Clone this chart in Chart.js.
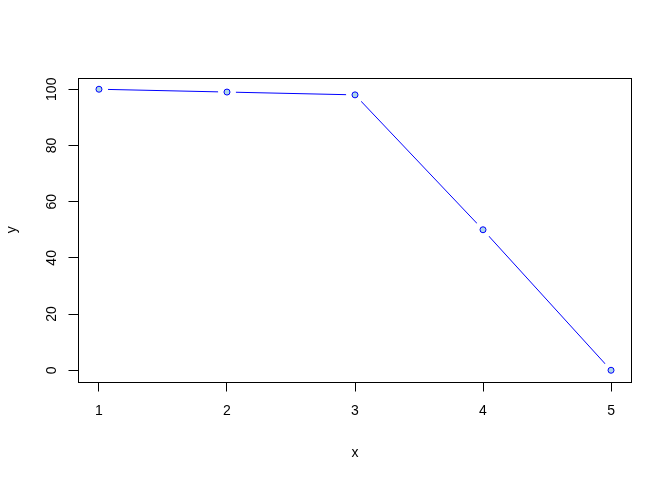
<!DOCTYPE html>
<html>
<head>
<meta charset="utf-8">
<script src="https://cdn.jsdelivr.net/npm/chart.js@4/dist/chart.umd.min.js"></script>
<style>
  html, body { margin: 0; padding: 0; background: #fff; }
</style>
</head>
<body>
<canvas id="plot" width="672" height="480"></canvas>
<script>
const xValues = [1, 2, 3, 4, 5];
const yValues = [100, 99, 98, 50, 0];
const xTicks = [1, 2, 3, 4, 5];
const yTicks = [0, 20, 40, 60, 80, 100];

const points = xValues.map((x, i) => ({ x: x, y: yValues[i] }));

// box around the plot region, like R's box()
const boxPlugin = {
  id: 'box',
  afterDraw(chart) {
    const a = chart.chartArea;
    const c = chart.ctx;
    c.save();
    c.strokeStyle = '#000';
    c.lineWidth = 1;
    c.strokeRect(Math.floor(a.left) + 0.5, Math.floor(a.top) + 0.5,
      Math.floor(a.right) - Math.floor(a.left), Math.floor(a.bottom) - Math.floor(a.top) + 1);
    c.restore();
  }
};

const font = { family: '"Liberation Sans", Arial, sans-serif', size: 14 };

new Chart(document.getElementById('plot').getContext('2d'), {
  type: 'scatter',
  data: {
    datasets: [
      {
        // the points, drawn on top
        data: points,
        showLine: false,
        pointRadius: 3,
        pointBorderWidth: 1,
        pointBackgroundColor: '#ADD8E6',
        pointBorderColor: '#0000FF'
      },
      {
        // the line, with white discs leaving gaps round the points (type = "b")
        data: points,
        showLine: true,
        borderColor: '#0000FF',
        borderWidth: 1,
        pointRadius: 9,
        pointBorderWidth: 0,
        pointBackgroundColor: '#ffffff',
        pointBorderColor: '#ffffff'
      }
    ]
  },
  options: {
    responsive: false,
    animation: false,
    events: [],
    layout: { padding: { top: 78, right: 40.5, left: 0, bottom: 0 } },
    plugins: { legend: { display: false }, tooltip: { enabled: false } },
    scales: {
      x: {
        type: 'linear',
        min: 0.84,
        max: 5.16,
        afterBuildTicks: s => { s.ticks = xTicks.map(v => ({ value: v })); },
        afterFit: s => { s.height = 98.5; },
        grid: { drawOnChartArea: false, drawTicks: true, tickLength: 10, tickColor: '#000', color: '#000' },
        border: { display: false },
        ticks: { color: '#000', font: font, padding: 11.5, maxRotation: 0, autoSkip: false },
        title: { display: true, text: 'x', color: '#000', font: font, padding: { top: 0, bottom: 18.6 } }
      },
      y: {
        type: 'linear',
        min: -4,
        max: 104,
        afterBuildTicks: s => { s.ticks = yTicks.map(v => ({ value: v })); },
        afterFit: s => { s.width = 78.5; },
        grid: { drawOnChartArea: false, drawTicks: true, tickLength: 10, tickColor: '#000', color: '#000' },
        border: { display: false },
        ticks: { color: '#000', font: font, padding: 4.8, minRotation: 90, maxRotation: 90, crossAlign: 'center', autoSkip: false },
        title: { display: true, text: 'y', color: '#000', font: font, padding: { top: 3.6, bottom: 0 } }
      }
    }
  },
  plugins: [boxPlugin]
});
</script>
</body>
</html>
